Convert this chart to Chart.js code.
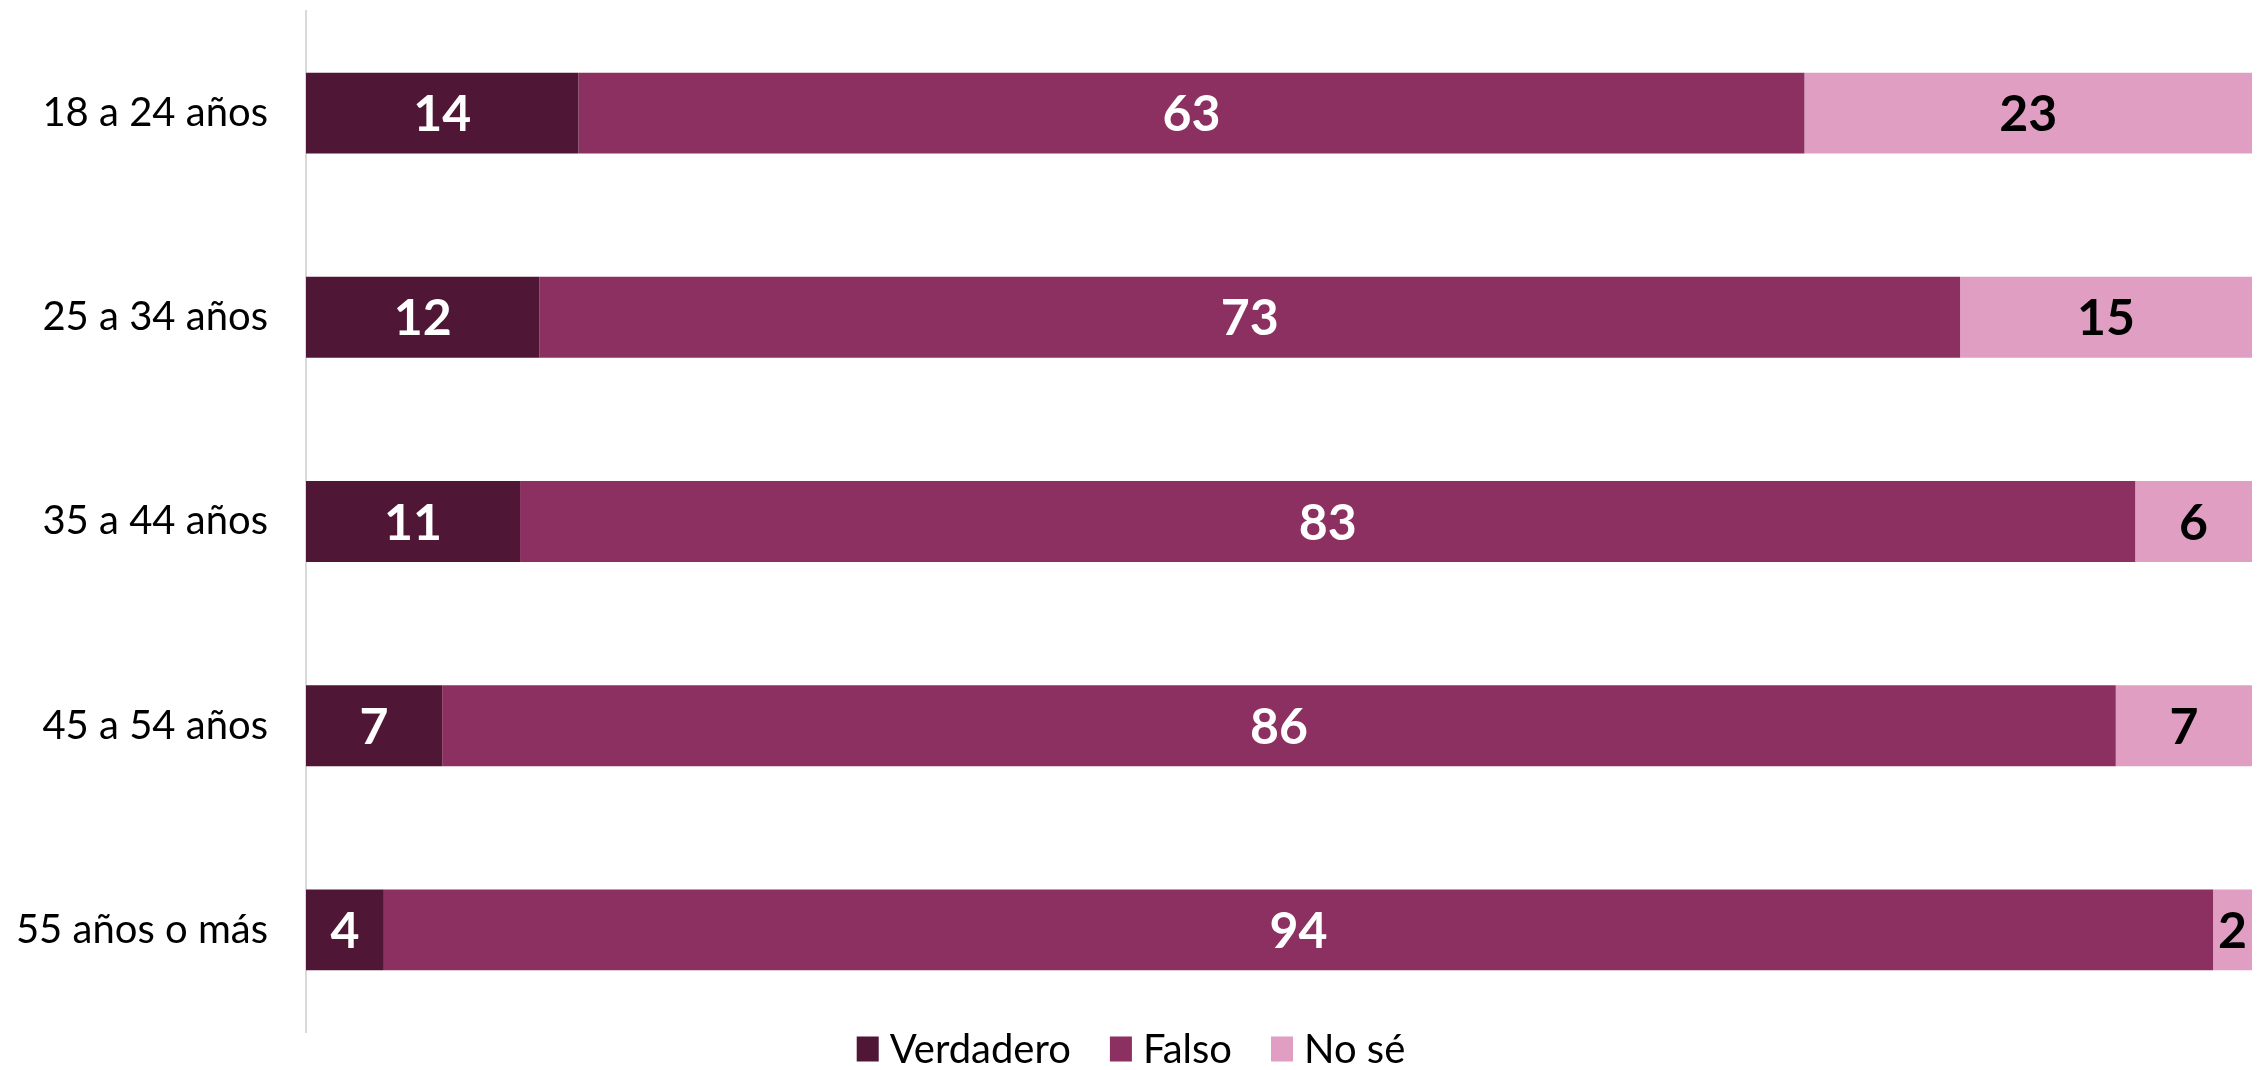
<!DOCTYPE html>
<html>
<head>
<meta charset="utf-8">
<script src="https://cdn.jsdelivr.net/npm/chart.js@4/dist/chart.umd.min.js"></script>
<style>
  html, body { margin: 0; padding: 0; background: #ffffff; }
  #wrap { width: 2257px; height: 1070px; position: relative; }
</style>
</head>
<body>
<div id="wrap"><canvas id="c" width="2257" height="1070"></canvas></div>
<script>
// Age groups and shares of answers (percent)
const categories = ['18 a 24 años', '25 a 34 años', '35 a 44 años', '45 a 54 años', '55 años o más'];
const verdadero = [14, 12, 11, 7, 4];
const falso = [63, 73, 83, 86, 94];
const noSe = [23, 15, 6, 7, 2];
const seriesNames = ['Verdadero', 'Falso', 'No sé'];

const colors = ['#4F1735', '#8C3061', '#E09EC3'];
const labelColors = ['#ffffff', '#ffffff', '#000000'];
const FONT = 'Lato, "Open Sans", sans-serif';

// Writes each segment's value in the middle of its bar piece
const segmentLabels = {
  id: 'segmentLabels',
  afterDatasetsDraw(chart) {
    const ctx = chart.ctx;
    ctx.save();
    ctx.font = 'bold 50px ' + FONT;
    ctx.textAlign = 'center';
    ctx.textBaseline = 'middle';
    chart.data.datasets.forEach((ds, di) => {
      const meta = chart.getDatasetMeta(di);
      meta.data.forEach((bar, i) => {
        const p = bar.getProps(['x', 'y', 'base'], true);
        let cx = (p.x + p.base) / 2;
        const txt = String(ds.data[i]);
        const w = ctx.measureText(txt).width;
        if (cx + w / 2 > chart.width - 1) cx = chart.width - 1 - w / 2;
        ctx.fillStyle = labelColors[di];
        ctx.fillText(txt, cx, p.y + 2);
      });
    });
    ctx.restore();
  }
};

// Row of square swatches and series names under the plot
const bottomLegend = {
  id: 'bottomLegend',
  afterDraw(chart) {
    const ctx = chart.ctx;
    ctx.save();
    ctx.font = '40px ' + FONT;
    ctx.textBaseline = 'middle';
    const box = 22, boxH = 25, gapText = 11, gapItem = 39;
    const widths = seriesNames.map(n => ctx.measureText(n).width);
    let total = 0;
    widths.forEach((w, i) => { total += box + gapText + w + (i < widths.length - 1 ? gapItem : 0); });
    let x = 1131 - total / 2;
    const cy = 1049;
    seriesNames.forEach((n, i) => {
      ctx.fillStyle = colors[i];
      ctx.fillRect(x, cy - boxH / 2, box, boxH);
      x += box + gapText;
      ctx.fillStyle = '#000000';
      ctx.textAlign = 'left';
      ctx.fillText(n, x, cy + 1);
      x += widths[i] + gapItem;
    });
    ctx.restore();
  }
};

new Chart(document.getElementById('c'), {
  type: 'bar',
  data: {
    labels: categories,
    datasets: [verdadero, falso, noSe].map((d, i) => ({
      label: seriesNames[i],
      data: d,
      backgroundColor: colors[i],
      borderWidth: 0,
      barPercentage: 0.396,
      categoryPercentage: 1.0
    }))
  },
  options: {
    indexAxis: 'y',
    responsive: false,
    animation: false,
    layout: { padding: { top: 11, right: 5, left: 0, bottom: 38 } },
    scales: {
      x: {
        stacked: true,
        min: 0,
        max: 100,
        display: false
      },
      y: {
        stacked: true,
        grid: { display: false, drawTicks: false },
        border: { display: true, color: '#D9D9D9', width: 2 },
        ticks: {
          color: '#000000',
          font: { family: FONT, size: 40 },
          padding: 38
        },
        afterFit(scale) {
          scale.width = 306;
          scale.paddingTop = 0;
          scale.paddingBottom = 0;
        }
      }
    },
    plugins: {
      legend: { display: false },
      tooltip: { enabled: false }
    }
  },
  plugins: [segmentLabels, bottomLegend]
});
</script>
</body>
</html>
